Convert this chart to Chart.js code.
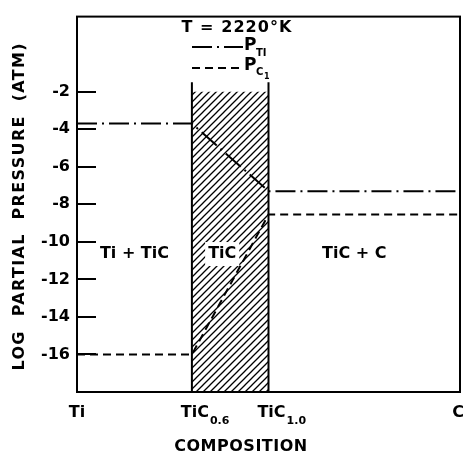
<!DOCTYPE html>
<html>
<head>
<meta charset="utf-8">
<script src="https://cdn.jsdelivr.net/npm/chart.js@4.4.1/dist/chart.umd.min.js"></script>
<style>
  html, body { margin: 0; padding: 0; background: #fff; }
  #wrap { width: 464px; height: 455px; }
</style>
</head>
<body>
<div id="wrap"><canvas id="myChart" width="464" height="455"></canvas></div>
<script>
// Data
var compPos = [0, 3, 5, 10];
var compNames = ['Ti', 'TiC', 'TiC', 'C'];
var compSubs = ['', '0.6', '1.0', ''];
var logPTi = [-3.7, -3.7, -7.3, -7.3];
var logPC = [-16, -16, -8.55, -8.55];
var yTickVals = [-2, -4, -6, -8, -10, -12, -14, -16];
var yTickLabels = ['-2', '-4', '-6', '-8', '-10', '-12', '-14', '-16'];
var phaseNames = ['Ti + TiC', 'TiC', 'TiC + C'];
var phaseLabelY = -10.65;
var hatchTop = -2;
var boundaryTop = -1.5;
var yMin = -18, yMax = 2;

var FONT = '"DejaVu Sans", sans-serif';

function hatchPattern() {
  var c = document.createElement('canvas');
  c.width = 7; c.height = 7;
  var g = c.getContext('2d');
  g.strokeStyle = '#000';
  g.lineWidth = 1.3;
  g.beginPath();
  g.moveTo(0, 7); g.lineTo(7, 0);
  g.moveTo(-1, 1); g.lineTo(1, -1);
  g.moveTo(6, 8); g.lineTo(8, 6);
  g.stroke();
  return document.getElementById('myChart').getContext('2d').createPattern(c, 'repeat');
}

function pts(xs, ys) {
  return xs.map(function (x, i) { return { x: x, y: ys[i] }; });
}

// text with subscript
function subText(ctx, base, sub, x, y, bigSize, smallSize, dy) {
  ctx.font = 'bold ' + bigSize + 'px ' + FONT;
  var w1 = ctx.measureText(base).width;
  var x0 = x - w1 / 2;
  ctx.textAlign = 'left';
  ctx.fillText(base, x0, y);
  if (sub) {
    ctx.font = 'bold ' + smallSize + 'px ' + FONT;
    ctx.fillText(sub, x0 + w1 + 1, y + dy);
  }
}

function spacedText(ctx, text, width) {
  var plain = ctx.measureText(text).width;
  var sp = (width - plain) / (text.length - 1);
  ctx.letterSpacing = sp.toFixed(2) + 'px';
}

var decor = {
  id: 'decor',
  afterDatasetsDraw: function (chart) {
    var ctx = chart.ctx;
    var a = chart.chartArea;
    var xs = chart.scales.x, ys = chart.scales.y;
    ctx.save();
    ctx.fillStyle = '#000';
    ctx.strokeStyle = '#000';

    // frame
    ctx.lineWidth = 2;
    ctx.strokeRect(a.left, a.top, a.right - a.left, a.bottom - a.top);

    // inward tick marks
    yTickVals.forEach(function (v) {
      var py = Math.round(ys.getPixelForValue(v));
      ctx.beginPath();
      ctx.moveTo(a.left, py);
      ctx.lineTo(a.left + 19, py);
      ctx.stroke();
    });

    // phase labels
    ctx.textBaseline = 'middle';
    ctx.textAlign = 'center';
    ctx.font = 'bold 16px ' + FONT;
    var py = ys.getPixelForValue(phaseLabelY);
    for (var i = 0; i < phaseNames.length; i++) {
      var mid = (compPos[i] + compPos[i + 1]) / 2;
      var px = xs.getPixelForValue(mid);
      if (i === 1) {
        px -= 8;
        var w = ctx.measureText(phaseNames[i]).width;
        ctx.fillStyle = '#fff';
        ctx.fillRect(px - w / 2 - 3, py - 12, w + 6, 24);
        ctx.fillStyle = '#000';
      }
      if (i === 2) px -= 10;
      ctx.fillText(phaseNames[i], px, py);
    }

    // x category labels
    for (var j = 0; j < compPos.length; j++) {
      var lx = xs.getPixelForValue(compPos[j]);
      if (j === compPos.length - 1) lx -= 2;
      subText(ctx, compNames[j], compSubs[j], lx + (compSubs[j] ? 3 : 0), 413, 16, 11, 8);
    }

    // axis titles
    ctx.font = 'bold 16px ' + FONT;
    ctx.textAlign = 'center';
    spacedText(ctx, 'COMPOSITION', 133);
    ctx.fillText('COMPOSITION', 241, 447);
    ctx.letterSpacing = '0px';

    ctx.save();
    ctx.translate(20, (a.top + a.bottom) / 2 + 2);
    ctx.rotate(-Math.PI / 2);
    ctx.font = 'bold 16px ' + FONT;
    spacedText(ctx, 'LOG  PARTIAL  PRESSURE  (ATM)', 327);
    ctx.fillText('LOG  PARTIAL  PRESSURE  (ATM)', 0, 0);
    ctx.restore();
    ctx.letterSpacing = '0px';

    // legend
    ctx.textAlign = 'center';
    ctx.font = 'bold 16px ' + FONT;
    spacedText(ctx, 'T = 2220°K', 110);
    ctx.fillText('T = 2220°K', 237, 28);
    ctx.letterSpacing = '0px';

    ctx.lineWidth = 2;
    ctx.setLineDash([20, 5, 2, 5]);
    ctx.beginPath(); ctx.moveTo(192, 47); ctx.lineTo(243, 47); ctx.stroke();
    ctx.setLineDash([8, 5]);
    ctx.beginPath(); ctx.moveTo(192, 68); ctx.lineTo(243, 68); ctx.stroke();
    ctx.setLineDash([]);

    ctx.textAlign = 'left';
    ctx.font = 'bold 17px ' + FONT;
    ctx.fillText('P', 244, 46);
    ctx.fillText('P', 244, 66);
    ctx.font = 'bold 10px ' + FONT;
    ctx.fillText('TI', 256, 53);
    ctx.fillText('C', 256, 72);
    ctx.font = 'bold 8px ' + FONT;
    ctx.fillText('1', 264, 77);
    ctx.restore();
  }
};

var ctx = document.getElementById('myChart').getContext('2d');
var myChart = new Chart(ctx, {
  type: 'line',
  data: {
    datasets: [
      {
        label: 'P Ti',
        data: pts(compPos, logPTi),
        borderColor: '#000',
        borderWidth: 2,
        borderDash: [20, 5, 2, 5],
        pointRadius: 0,
        tension: 0,
        fill: false
      },
      {
        label: 'P C1',
        data: pts(compPos, logPC),
        borderColor: '#000',
        borderWidth: 2,
        borderDash: [8, 5],
        pointRadius: 0,
        tension: 0,
        fill: false
      },
      {
        label: 'TiC0.6 boundary',
        data: [{ x: compPos[1], y: yMin }, { x: compPos[1], y: boundaryTop }],
        borderColor: '#000',
        borderWidth: 2,
        pointRadius: 0,
        fill: false
      },
      {
        label: 'TiC1.0 boundary',
        data: [{ x: compPos[2], y: yMin }, { x: compPos[2], y: boundaryTop }],
        borderColor: '#000',
        borderWidth: 2,
        pointRadius: 0,
        fill: false
      },
      {
        label: 'TiC field',
        data: [{ x: compPos[1], y: hatchTop }, { x: compPos[2], y: hatchTop }],
        borderWidth: 0,
        borderColor: 'rgba(0,0,0,0)',
        backgroundColor: hatchPattern(),
        pointRadius: 0,
        fill: { value: yMin }
      }
    ]
  },
  options: {
    responsive: false,
    animation: false,
    layout: { padding: { top: 13, right: 4, left: 0, bottom: 0 } },
    plugins: {
      legend: { display: false },
      tooltip: { enabled: false }
    },
    scales: {
      x: {
        type: 'linear',
        min: compPos[0],
        max: compPos[compPos.length - 1],
        grid: { display: false },
        border: { display: false },
        ticks: { display: false },
        afterFit: function (s) { s.height = 63; }
      },
      y: {
        min: yMin,
        max: yMax,
        grid: { display: false, drawTicks: false },
        border: { display: false },
        afterBuildTicks: function (s) {
          s.ticks = yTickVals.map(function (v) { return { value: v }; });
        },
        ticks: {
          padding: 7,
          color: '#000',
          font: { family: FONT, size: 16, weight: 'bold' },
          callback: function (v) {
            var k = yTickVals.indexOf(v);
            return k >= 0 ? yTickLabels[k] : '';
          }
        },
        afterFit: function (s) { s.width = 77; }
      }
    }
  },
  plugins: [decor]
});
</script>
</body>
</html>
